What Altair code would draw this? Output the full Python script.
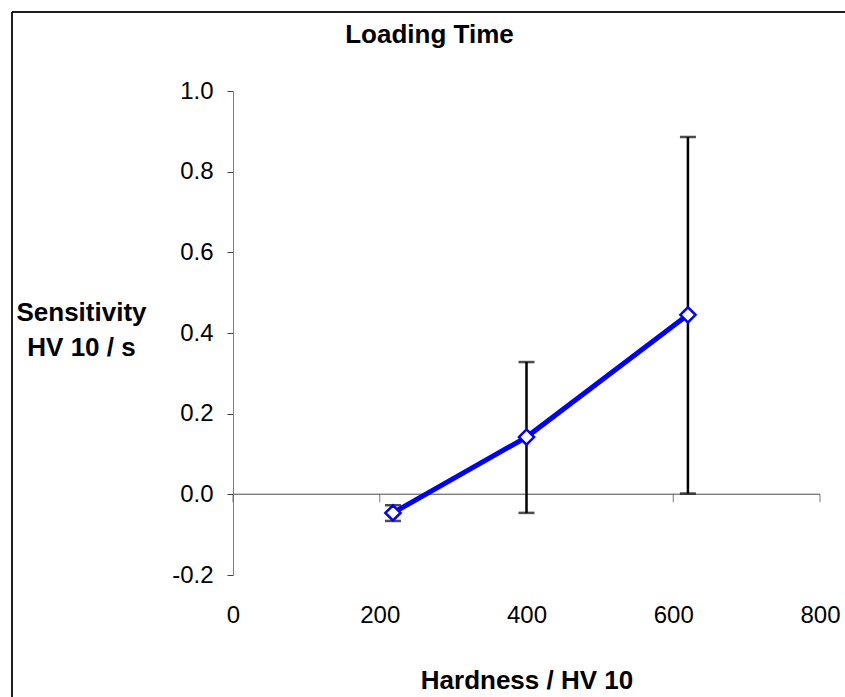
import altair as alt
import pandas as pd

# ---- data ----
hardness = [218, 400, 620]
sensitivity = [-0.046, 0.142, 0.445]
err_low = [-0.066, -0.046, 0.002]
err_high = [-0.027, 0.328, 0.886]
x_ticks = [0, 200, 400, 600, 800]
y_ticks = [-0.2, 0.0, 0.2, 0.4, 0.6, 0.8, 1.0]

df = pd.DataFrame({"h": hardness, "s": sensitivity, "lo": err_low, "hi": err_high})
ticks_df = pd.DataFrame({"h": x_ticks})

W, H = 587, 484
FONT = "Liberation Sans"

xs = alt.Scale(domain=[0, 800], nice=False, zero=False)
ys = alt.Scale(domain=[-0.2, 1.0], nice=False, zero=False)

x_axis = alt.Axis(
    values=x_ticks, domain=False, ticks=False, tickSize=0, grid=False,
    labelFlush=False, labelOverlap=False,
    labelPadding=28, labelFontSize=24, labelFont=FONT, labelColor="black",
    title="Hardness / HV 10", titleFont=FONT, titleFontSize=26, titleFontWeight="bold",
    titleColor="black", titleBaseline="alphabetic", titleY=113, titleAlign="center",
)
y_axis = alt.Axis(
    values=y_ticks, grid=False, domainColor="#808080", domainWidth=1,
    tickColor="#404040", tickSize=6, tickWidth=1, labelFlush=False,
    labelPadding=14, labelFontSize=24, labelFont=FONT, labelColor="black",
    labelExpr="replace(format(datum.value, '.1f'), '\u2212', '-')",
    title=["Sensitivity", "HV 10 / s"], titleFont=FONT, titleFontSize=26,
    titleFontWeight="bold", titleColor="black", titleAngle=0, titleAlign="center",
    titleBaseline="top", titleX=-152, titleY=208, titleLineHeight=35,
)

X = alt.X("h:Q", scale=xs, axis=x_axis)
Y = alt.Y("s:Q", scale=ys, axis=y_axis)

base = alt.Chart(df)

zero_line = base.mark_rule(color="#808080", strokeWidth=1).encode(
    x=alt.datum(0, scale=xs), x2=alt.datum(800), y=alt.datum(0, scale=ys)
)
zero_ticks = alt.Chart(ticks_df).mark_tick(
    orient="vertical", size=8, thickness=1, color="#404040", yOffset=4
).encode(x=X, y=alt.datum(0, scale=ys))

err_rule = base.mark_rule(color="black", strokeWidth=2.5).encode(
    x=X, y=alt.Y("lo:Q", scale=ys, axis=y_axis), y2="hi:Q"
)
cap_lo = base.mark_tick(orient="horizontal", size=16, thickness=2.5, color="black").encode(
    x=X, y=alt.Y("lo:Q", scale=ys, axis=y_axis)
)
cap_hi = base.mark_tick(orient="horizontal", size=16, thickness=2.5, color="black").encode(
    x=X, y=alt.Y("hi:Q", scale=ys, axis=y_axis)
)
line = base.mark_line(color="#0000FF", strokeWidth=5).encode(x=X, y=Y)
points = base.mark_point(
    shape="diamond", size=230, fill="white", stroke="#0000FF", strokeWidth=2.5,
    opacity=1, fillOpacity=1,
).encode(x=X, y=Y)

# outer chart frame (decoration)
frame_top = base.mark_rule(color="black", strokeWidth=1).encode(
    x=alt.value(-221), x2=alt.value(640), y=alt.value(-79)
)
frame_left = base.mark_rule(color="black", strokeWidth=1).encode(
    x=alt.value(-221), y=alt.value(-79), y2=alt.value(620)
)

chart = alt.layer(
    frame_top, frame_left, zero_line, zero_ticks, err_rule, cap_lo, cap_hi, line, points
).properties(
    width=W, height=H,
    background="white",
    title=alt.Title("Loading Time", font=FONT, fontSize=26, fontWeight="bold",
                    color="black", anchor="middle", frame="group", dx=-97,
                    dy=27, offset=-30, baseline="alphabetic"),
    autosize=alt.AutoSizeParams(type="none"),
    padding={"left": 233, "top": 91, "right": 25, "bottom": 122},
).configure_view(strokeWidth=0)

chart.save("out.html", embed_options={"renderer": "svg", "actions": False})
